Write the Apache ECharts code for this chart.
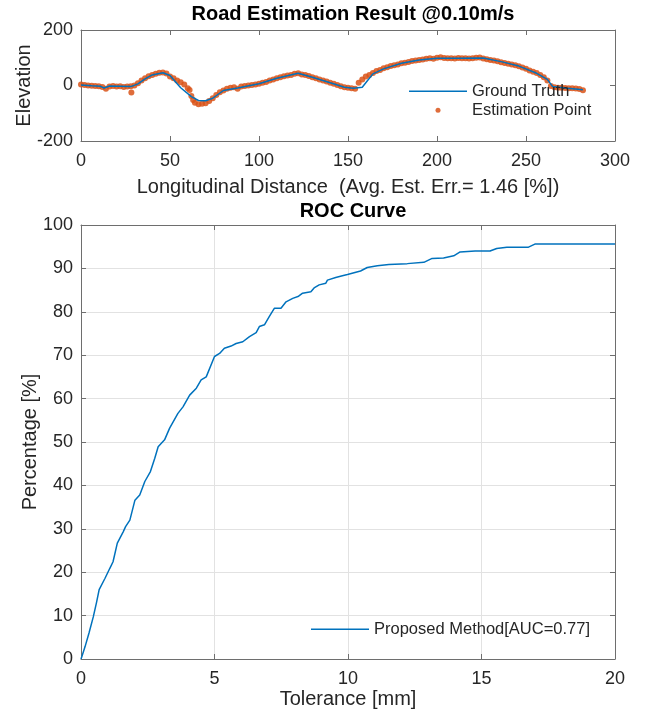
<!DOCTYPE html>
<html>
<head>
    <title>Road Estimation Result</title>
    <script src="https://cdn.jsdelivr.net/npm/echarts@6.0.0/dist/echarts.min.js"></script>
    <style>
        body {
            margin: 0;
            padding: 0;
            background-color: #ffffff;
        }
        #chart {
            width: 651px;
            height: 715px;
        }
    </style>
</head>
<body>
    <div id="chart"></div>

    <script>
        // ground truth road profile [distance, elevation]
        var groundTruth = [
            [0, 2], [6, -1], [11, -3], [13, -9], [16, -2], [22, -3], [28, -4], [32, 6],
            [36, 24], [40, 38], [46, 46], [50, 36], [56, -8], [62, -40], [66, -54],
            [70, -55], [74, -46], [80, -18], [88, -9], [100, 6], [110, 26], [122, 44],
            [130, 30], [140, 10], [148, -6], [153, -10], [158, -6], [161, 18], [164, 42],
            [170, 60], [180, 80], [190, 92], [200, 98], [212, 98], [226, 99], [236, 86],
            [246, 70], [256, 44], [262, 22], [265, -4], [272, -9], [282, -15]
        ];

        // estimated points [distance, elevation]
        var estimation = [
            [0, 4], [2, 2], [4, 0], [6, -1], [8, -2], [10, -3], [12, -5], [14, -12],
            [16, -4], [18, -2], [20, -4], [22, -3], [24, -5], [26, -4], [28, -3], [28.3, -25],
            [30, 0], [32, 8], [34, 18], [36, 26], [38, 33], [40, 38], [42, 42], [44, 46],
            [46, 47], [48, 43], [50, 32], [52, 26], [54, 18], [56, 12], [58, 4], [60, -10],
            [61, -16], [62, -38], [63, -52], [64, -62], [66, -68], [68, -66], [70, -64],
            [72, -56], [74, -46], [76, -34], [78, -24], [80, -18], [82, -12], [84, -8],
            [86, -6], [88, -12], [90, -4], [92, -2], [94, 0], [96, 2], [98, 4], [100, 6],
            [102, 10], [104, 13], [106, 18], [108, 22], [110, 26], [112, 30], [114, 33],
            [116, 36], [118, 38], [120, 42], [122, 44], [124, 40], [126, 38], [128, 34],
            [130, 30], [132, 26], [134, 22], [136, 18], [138, 14], [140, 10], [142, 6],
            [144, 2], [146, -3], [148, -6], [150, -8], [152, -10], [154, -12], [156, 10],
            [158, 22], [160, 32], [162, 38], [164, 45], [166, 52], [168, 56], [170, 62],
            [172, 66], [174, 70], [176, 73], [178, 76], [180, 80], [182, 82], [184, 85],
            [186, 88], [188, 90], [190, 92], [192, 94], [194, 96], [196, 98], [198, 96],
            [200, 100], [202, 102], [204, 99], [206, 98], [208, 98], [210, 97], [212, 99],
            [214, 98], [216, 98], [218, 97], [220, 98], [222, 100], [224, 101], [226, 97],
            [228, 95], [230, 92], [232, 90], [234, 87], [236, 84], [238, 81], [240, 78],
            [242, 76], [244, 73], [246, 69], [248, 65], [250, 60], [252, 54], [254, 50],
            [256, 45], [258, 38], [260, 30], [262, 18], [264, -2], [266, -6], [268, -8],
            [270, -8], [272, -9], [274, -10], [276, -10], [278, -11], [280, -13], [282, -17]
        ];

        // ROC curve [tolerance mm, percentage]
        var rocCurve = [
            [0, 0], [0.03, 0.5], [0.15, 2.8], [0.3, 6], [0.46, 9.7], [0.58, 13], [0.68, 16],
            [0.9, 18.6], [1.08, 20.9], [1.2, 22.4], [1.36, 26.7], [1.58, 29.3], [1.67, 30.5],
            [1.83, 32], [2.02, 36.6], [2.2, 37.8], [2.39, 40.9], [2.6, 43.2], [2.76, 46.2],
            [2.89, 48.9], [3.13, 50.5], [3.32, 53.2], [3.63, 56.6], [3.82, 58.1], [4.07, 60.8],
            [4.32, 62.4], [4.5, 64.3], [4.69, 65], [5.0, 69.7], [5.19, 70.4], [5.37, 71.6],
            [5.62, 72.1], [5.81, 72.7], [6.06, 73.1], [6.31, 74.3], [6.56, 75.2], [6.68, 76.6],
            [6.87, 77], [7.05, 78.9], [7.24, 80.8], [7.49, 80.8], [7.68, 82.3], [7.93, 83.1],
            [8.15, 83.6], [8.3, 84.3], [8.61, 84.6], [8.73, 85.5], [8.92, 86.2], [9.17, 86.6],
            [9.23, 87.3], [9.54, 87.9], [9.79, 88.3], [9.98, 88.6], [10.47, 89.4], [10.72, 90.2],
            [11.1, 90.6], [11.53, 90.9], [12.22, 91.1], [12.28, 91.4], [12.84, 91.4], [13.15, 92.3],
            [13.58, 92.4], [13.96, 92.9], [14.2, 93.8], [14.76, 94], [15.32, 94], [15.57, 94.6],
            [15.95, 94.9], [16.76, 94.9], [17.0, 95.6], [20, 95.6]
        ];

        var distTicks = [0, 300, 50];
        var elevTicks = [-200, 200, 200];
        var tolTicks = [0, 20, 5];
        var pctTicks = [0, 100, 10];

        var font = "'Liberation Sans', Arial, sans-serif";
        var axisColor = '#6e6e6e';
        var textColor = '#262626';
        var legendText = { fontFamily: font, fontSize: 16.5, color: textColor };
        // dot centred in a wide box, so the text lines up with the line sample
        var dotIcon = 'path://M0,2.5L0,2.5M58,2.5L58,2.5M26.5,2.5A2.5,2.5,0,1,0,31.5,2.5A2.5,2.5,0,1,0,26.5,2.5Z';

        function mainAxis(grid, pos, range, name, nameGap, labelGap, grid_on) {
            return {
                type: 'value',
                gridIndex: grid,
                position: pos,
                min: range[0],
                max: range[1],
                interval: range[2],
                name: name,
                nameLocation: 'middle',
                nameGap: nameGap,
                nameMoveOverlap: false,
                nameTextStyle: { fontFamily: font, fontSize: 20, color: textColor },
                axisLine: { show: true, onZero: false, lineStyle: { color: axisColor, width: 1 } },
                axisTick: { show: true, inside: true, length: 5, lineStyle: { color: axisColor } },
                axisLabel: { fontFamily: font, fontSize: 18, color: textColor, margin: labelGap },
                splitLine: { show: grid_on, lineStyle: { color: '#e2e2e2', width: 1 } }
            };
        }

        function mirrorAxis(grid, pos, range) {
            return {
                type: 'value',
                gridIndex: grid,
                position: pos,
                min: range[0],
                max: range[1],
                interval: range[2],
                axisLine: { show: true, onZero: false, lineStyle: { color: axisColor, width: 1 } },
                axisTick: { show: true, inside: true, length: 5, lineStyle: { color: axisColor } },
                axisLabel: { show: false },
                splitLine: { show: false }
            };
        }

        var chart = echarts.init(document.getElementById('chart'));

        var option = {
            animation: false,
            backgroundColor: '#ffffff',
            title: [
                {
                    text: 'Road Estimation Result @0.10m/s',
                    left: 348, top: -8, textAlign: 'center',
                    textStyle: { fontFamily: font, fontSize: 20, fontWeight: 'bold', color: '#000' }
                },
                {
                    text: 'ROC Curve',
                    left: 348, top: 189, textAlign: 'center',
                    textStyle: { fontFamily: font, fontSize: 20, fontWeight: 'bold', color: '#000' }
                }
            ],
            legend: [
                {
                    data: [{ name: 'Ground Truth', icon: 'rect' }],
                    left: 409, top: 77, padding: 0,
                    itemWidth: 58, itemHeight: 1.5,
                    textStyle: legendText
                },
                {
                    data: [{ name: 'Estimation Point', icon: dotIcon }],
                    left: 409, top: 96, padding: 0,
                    itemWidth: 58, itemHeight: 5,
                    textStyle: legendText
                },
                {
                    data: [{ name: 'Proposed Method[AUC=0.77]', icon: 'rect' }],
                    left: 311, top: 615, padding: 0,
                    itemWidth: 58, itemHeight: 1.5,
                    textStyle: legendText
                }
            ],
            grid: [
                { left: 81, right: 36, top: 30, height: 111, outerBoundsMode: 'none' },
                { left: 81, right: 36, top: 225, height: 434, outerBoundsMode: 'none' }
            ],
            xAxis: [
                mainAxis(0, 'bottom', distTicks, 'Longitudinal Distance  (Avg. Est. Err.= 1.46 [%])', 29, 5, false),
                mirrorAxis(0, 'top', distTicks),
                mainAxis(1, 'bottom', tolTicks, 'Tolerance [mm]', 23, 5, true),
                mirrorAxis(1, 'top', tolTicks)
            ],
            yAxis: [
                mainAxis(0, 'left', elevTicks, 'Elevation', 39, 8, false),
                mirrorAxis(0, 'right', elevTicks),
                mainAxis(1, 'left', pctTicks, 'Percentage [%]', 33, 8, true),
                mirrorAxis(1, 'right', pctTicks)
            ],
            series: [
                {
                    name: 'Ground Truth',
                    type: 'line',
                    xAxisIndex: 0,
                    yAxisIndex: 0,
                    data: groundTruth,
                    symbol: 'none',
                    color: '#0072BD',
                    lineStyle: { width: 1.5, color: '#0072BD' }
                },
                {
                    name: 'Estimation Point',
                    type: 'scatter',
                    xAxisIndex: 0,
                    yAxisIndex: 0,
                    data: estimation,
                    symbol: 'circle',
                    symbolSize: 6,
                    itemStyle: { color: '#D95319', opacity: 0.85 }
                },
                {
                    name: 'Proposed Method[AUC=0.77]',
                    type: 'line',
                    xAxisIndex: 2,
                    yAxisIndex: 2,
                    data: rocCurve,
                    symbol: 'none',
                    color: '#0072BD',
                    lineStyle: { width: 1.5, color: '#0072BD' }
                }
            ]
        };

        chart.setOption(option);
    </script>
</body>
</html>
